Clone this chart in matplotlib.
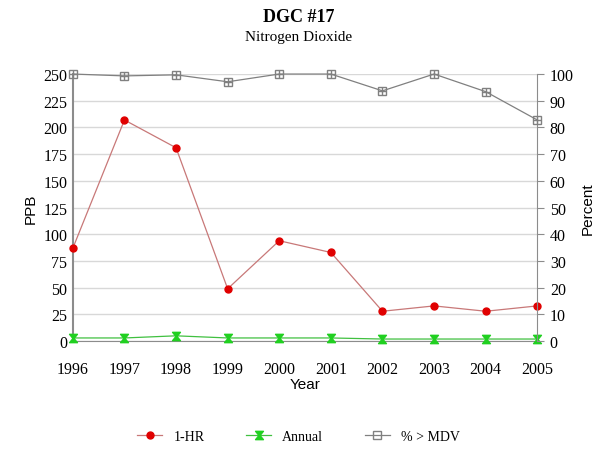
import matplotlib
matplotlib.use('Agg')
import matplotlib.pyplot as plt
from matplotlib.lines import Line2D

years = [1996, 1997, 1998, 1999, 2000, 2001, 2002, 2003, 2004, 2005]
hr1 = [87, 207, 181, 49, 94, 83, 28, 33, 28, 33]
annual = [3, 3, 5, 3, 3, 3, 2, 2, 2, 2]
pct_mdv = [100, 99.3, 99.7, 97.1, 100, 100, 93.7, 100, 93.4, 82.8]

serif = 'Liberation Serif'
sans = 'Liberation Sans'
gray = '#8c8c8c'

fig = plt.figure(figsize=(5.97, 4.52), dpi=100)
ax = fig.add_axes([0.122, 0.243, 0.778, 0.591])
ax2 = ax.twinx()

# 左軸 PPB
ax.plot(years, hr1, color='#c87878', lw=0.9, marker='o', ms=5,
        mfc='#e00000', mec='#e00000', zorder=3, clip_on=False)
ax.plot(years, annual, color='#40c040', lw=0.9, marker='$\u29D7$', ms=6,
        mfc='#20d020', mec='#20d020', zorder=3, clip_on=False)
# 右軸 Percent
ax2.plot(years, pct_mdv, color='#808080', lw=0.9, marker='s', ms=5.5,
         mfc='none', mec='#808080', zorder=3, clip_on=False)
ax2.plot(years, pct_mdv, lw=0, marker='+', ms=5.5, mec='#808080', zorder=3,
         clip_on=False)

ax.set_xlim(1996, 2005)
ax.set_ylim(0, 250)
ax2.set_ylim(0, 100)
ax.set_xticks(years)
ax.set_yticks(range(0, 251, 25))
ax2.set_yticks(range(0, 101, 10))
ax.grid(axis='y', color='#d8d8d8', lw=1)
ax.set_axisbelow(True)

for a in (ax, ax2):
    for s in a.spines.values():
        s.set_visible(False)
    a.tick_params(labelsize=11.5, length=0, colors='black', pad=4)
    for lbl in a.get_xticklabels() + a.get_yticklabels():
        lbl.set_fontfamily(serif)
ax.spines['left'].set_visible(True)
ax.spines['left'].set_color(gray)
ax.spines['left'].set_linewidth(1.5)
ax.spines['bottom'].set_visible(True)
ax.spines['bottom'].set_color(gray)
ax2.spines['right'].set_visible(True)
ax2.spines['right'].set_color(gray)
ax2.tick_params(axis='y', length=5, color=gray)
ax.tick_params(axis='x', pad=14)

ax.set_ylabel('PPB', fontfamily=sans, fontsize=11)
ax2.set_ylabel('Percent', fontfamily=sans, fontsize=11, labelpad=5)
ax.set_xlabel('Year', fontfamily=sans, fontsize=11, labelpad=0)

fig.text(0.5, 0.962, 'DGC #17', ha='center', va='center', fontfamily=serif,
         fontsize=13, fontweight='bold')
fig.text(0.5, 0.918, 'Nitrogen Dioxide', ha='center', va='center',
         fontfamily=serif, fontsize=11)

handles = [
    Line2D([], [], color='#c87878', lw=0.9, marker='o', ms=5,
           mfc='#e00000', mec='#e00000'),
    Line2D([], [], color='#40c040', lw=0.9, marker='$\u29D7$', ms=6,
           mfc='#20d020', mec='#20d020'),
    Line2D([], [], color='#808080', lw=0.9, marker='s', ms=5.5,
           mfc='none', mec='#808080'),
]
fig.legend(handles, ['1-HR', 'Annual', '% > MDV'], loc='center',
           bbox_to_anchor=(0.5, 0.033), ncol=3, frameon=False,
           prop={'family': serif, 'size': 10}, handlelength=1.8,
           columnspacing=3)

fig.savefig('out.png', dpi=100)
